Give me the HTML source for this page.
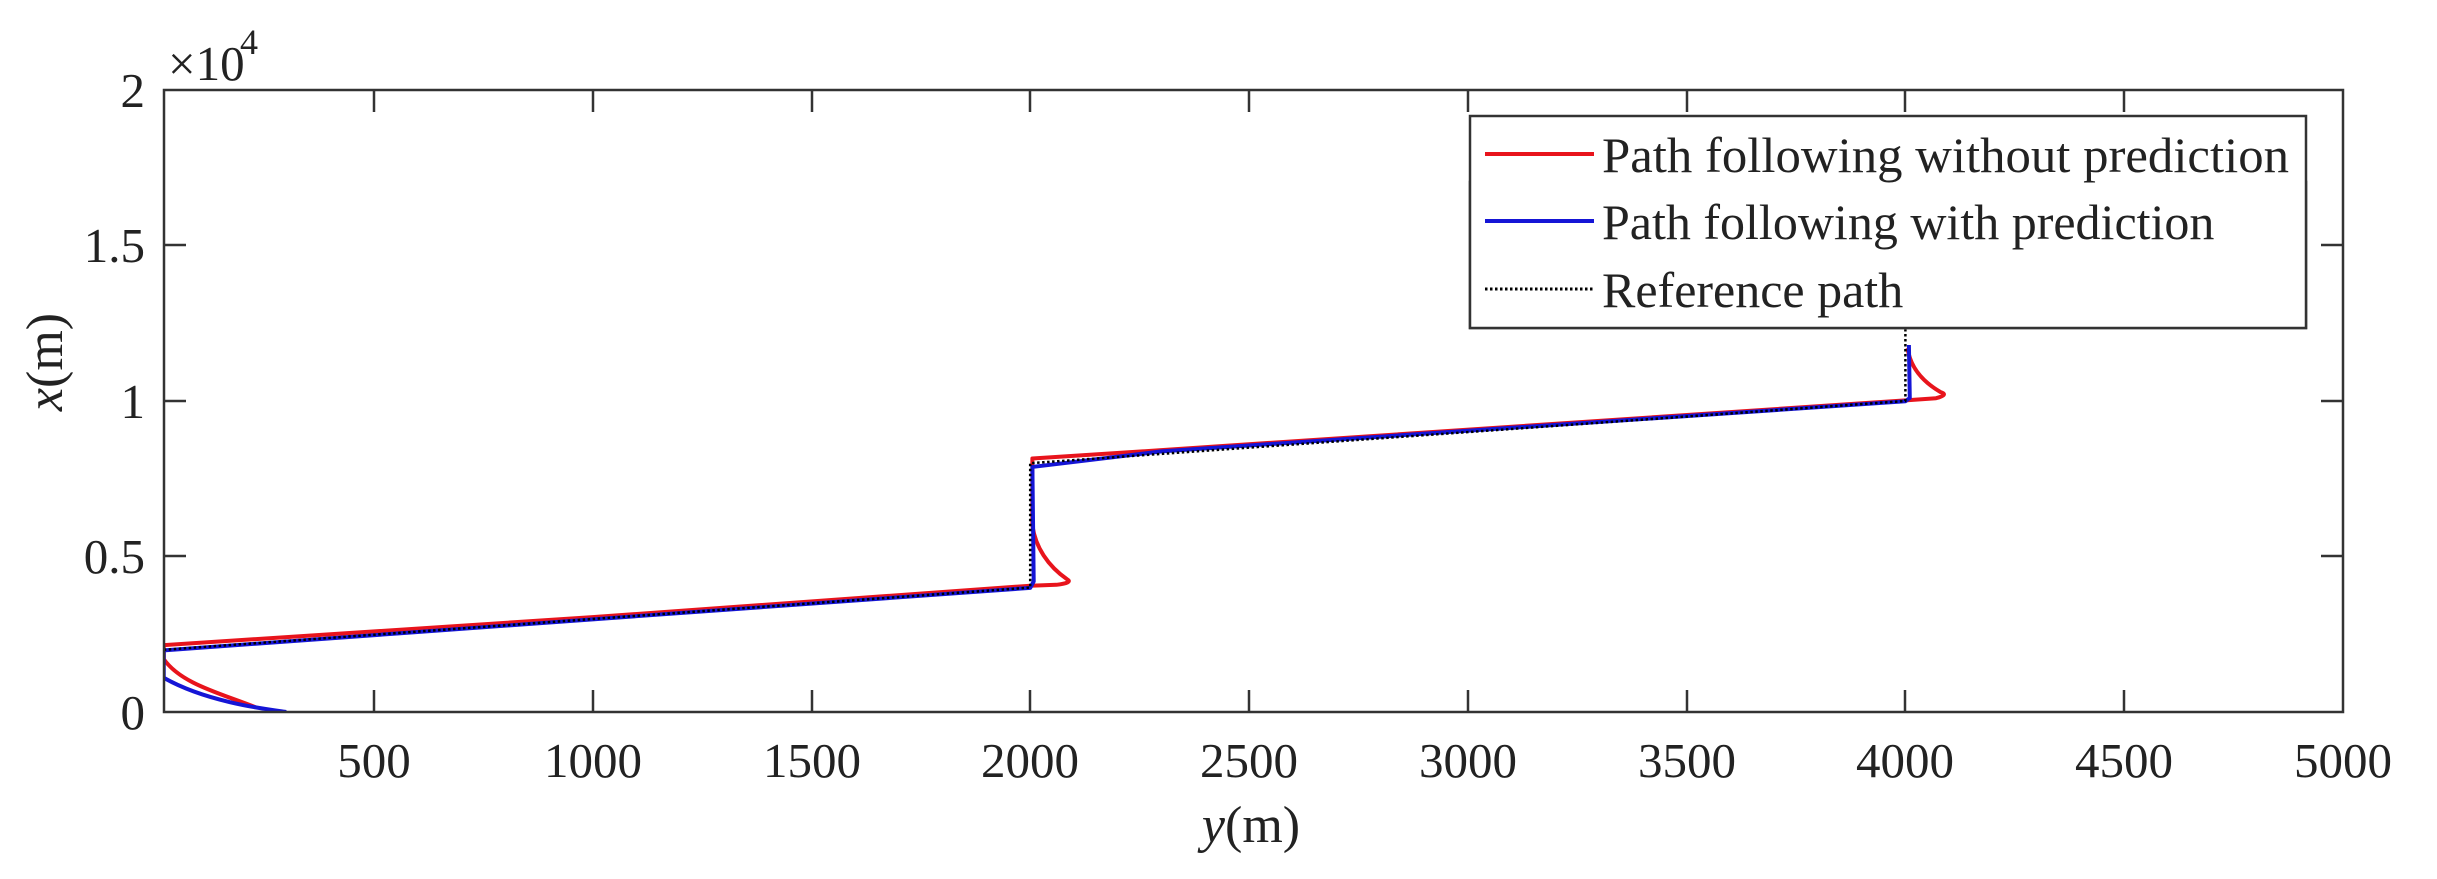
<!DOCTYPE html>
<html><head><meta charset="utf-8"><style>
html,body{margin:0;padding:0;background:#fff;}
svg{display:block;}
text{font-family:"Liberation Serif",serif;fill:#222;}
</style></head><body>
<svg width="2437" height="879" viewBox="0 0 2437 879" xmlns="http://www.w3.org/2000/svg">
<rect width="2437" height="879" fill="#fff"/>
<defs><clipPath id="c"><rect x="164" y="90" width="2179" height="622"/></clipPath></defs>
<g clip-path="url(#c)">
<g transform="translate(155,712) scale(0.4376,-0.0311)" fill="none" stroke-linejoin="round">
<path vector-effect="non-scaling-stroke" stroke="#e8141c" stroke-width="4" d="M230,150 C150,600 60,900 20,1700 L20,2150 L1000,3050 L2000,4060 L2060,4090 Q2098,4160 2085,4260 C2040,4700 2012,5300 2005,6000 L2005,8150 L2300,8420 L4000,10020 L4070,10090 Q4100,10200 4080,10290 C4030,10700 4010,11200 4005,11700"/>
<path vector-effect="non-scaling-stroke" stroke="#1515d6" stroke-width="4" d="M300,0 C260,80 120,300 20,1100 L20,1980 L1000,2980 L2000,3990 L2008,4200 L2005,7880 L2300,8380 L4000,9990 L4010,10100 L4008,11800"/>
<path vector-effect="non-scaling-stroke" stroke="#000" stroke-width="2.5" stroke-dasharray="2.5,2.5" d="M20,2000 L2000,4000 L2000,8000 L4000,10000 L4000,12300"/>
</g>
</g>
<g stroke="#333" stroke-width="2.5" fill="none">
<rect x="164" y="90" width="2179" height="622"/>
<path d="M374,712v-22M374,90v22M593,712v-22M593,90v22M812,712v-22M812,90v22M1030,712v-22M1030,90v22M1249,712v-22M1249,90v22M1468,712v-22M1468,90v22M1687,712v-22M1687,90v22M1905,712v-22M1905,90v22M2124,712v-22M2124,90v22"/>
<path d="M164,556h22M2343,556h-22M164,401h22M2343,401h-22M164,245h22M2343,245h-22"/>
</g>
<g font-size="49" text-anchor="middle">
<text x="374" y="777">500</text><text x="593" y="777">1000</text><text x="812" y="777">1500</text><text x="1030" y="777">2000</text><text x="1249" y="777">2500</text><text x="1468" y="777">3000</text><text x="1687" y="777">3500</text><text x="1905" y="777">4000</text><text x="2124" y="777">4500</text><text x="2343" y="777">5000</text>
</g>
<g font-size="49" text-anchor="end">
<text x="145" y="729">0</text><text x="145" y="573">0.5</text><text x="145" y="418">1</text><text x="145" y="262">1.5</text><text x="145" y="107">2</text>
</g>
<text x="168" y="80" font-size="49">×10</text><text x="240" y="54" font-size="36">4</text>
<text x="1251" y="842" font-size="52" text-anchor="middle"><tspan font-style="italic">y</tspan>(m)</text>
<text transform="translate(62,362) rotate(-90)" font-size="52" text-anchor="middle"><tspan font-style="italic">x</tspan>(m)</text>
<rect x="1470" y="182" width="836" height="146" fill="#fff" stroke="#333" stroke-width="2.5" transform="translate(0,0)"/>
<rect x="1470" y="116" width="836" height="212" fill="#fff" stroke="#333" stroke-width="2.5"/>
<line x1="1485" y1="154" x2="1594" y2="154" stroke="#e8141c" stroke-width="4"/>
<line x1="1485" y1="221" x2="1594" y2="221" stroke="#1515d6" stroke-width="4"/>
<line x1="1485" y1="289" x2="1594" y2="289" stroke="#000" stroke-width="3" stroke-dasharray="2.5,2.5"/>
<g font-size="50" style="fill:#000">
<text x="1602" y="172" textLength="687" lengthAdjust="spacingAndGlyphs">Path following without prediction</text>
<text x="1602" y="239">Path following with prediction</text>
<text x="1602" y="307">Reference path</text>
</g>
</svg>
</body></html>
